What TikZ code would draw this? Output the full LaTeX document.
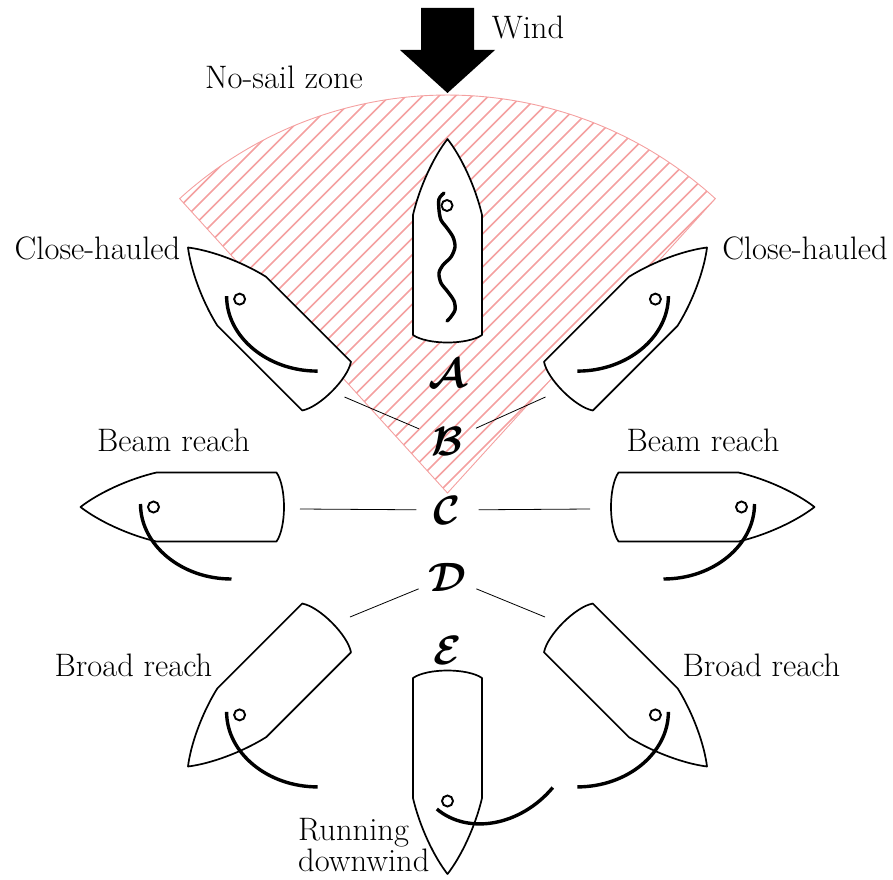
\RequirePackage{fix-cm}
\documentclass[tikz,border=0pt]{standalone}
\usetikzlibrary{calc}
\definecolor{nogo}{RGB}{244,160,160}
\tikzset{
  hull/.style={draw=black, line width=1.7pt, fill=white, line join=round},
  sail/.style={line width=3.4pt},
  mastring/.style={draw=black, line width=1.9pt, fill=white},
  lbl/.style={font=\fontsize{32.5}{31}\selectfont, inner sep=0pt},
  letter/.style={circle, inner sep=0pt, minimum size=62pt,
    font=\fontsize{41}{41}\selectfont\boldmath},
  leader/.style={line width=0.8pt},
  hatchline/.style={draw=nogo, line width=1.7pt},
  boat/.pic={
    \draw[hull] (-34.5,-98) -- (-34.5,22)
      .. controls (-28,50) and (-14,80) .. (0,98)
      .. controls (14,80) and (28,50) .. (34.5,22)
      -- (34.5,-98) .. controls (20,-108) and (-20,-108) .. cycle;
    \coordinate (-mast) at (0,25);
  },
  mastpin/.pic={\draw[mastring] (0,0) circle[radius=5.5];}
}
\begin{document}
\begin{tikzpicture}[x=1pt,y=1pt]
\useasboundingbox (-447.5,-372) rectangle (445.5,507);

% no-sail zone: hatched sector
\begin{scope}
  \clip (0,14) -- ++(47.7:398) arc[start angle=47.7, end angle=132.3, radius=398] -- cycle;
  \foreach \c in {-700,-683.5,...,270} \draw[hatchline] (\c,0) -- ++(460,460);
\end{scope}
\draw[draw=nogo, line width=0.9pt] (0,14) -- ++(47.7:398) arc[start angle=47.7, end angle=132.3, radius=398] -- cycle;

% wind arrow
\fill (-26.5,499) -- (26.5,499) -- (26.5,457) -- (47.5,457) -- (0,414)
  -- (-47.5,457) -- (-26.5,457) -- cycle;

% hulls
\pic (hw)  [rotate=0]    at (0,270)     {boat};
\pic (chl) [rotate=45]   at (135:269)   {boat};
\pic (chr) [rotate=-45]  at (45:269)    {boat};
\pic (bml) [rotate=90]   at (180:269)   {boat};
\pic (bmr) [rotate=-90]  at (0:269)     {boat};
\pic (brl) [rotate=135]  at (225:269)   {boat};
\pic (brr) [rotate=-135] at (-45:269)   {boat};
\pic (run) [rotate=180]  at (270:269)   {boat};

% masts
\pic at (-0.5,301.5) {mastpin};
\foreach \b in {chl,chr,bml,bmr,brl,brr,run} \pic at (\b-mast) {mastpin};

% luffing sail, head to wind
\draw[sail, line cap=round] plot[smooth] coordinates {(-3.5,314) (-8.5,308) (-8.5,297) (-6.5,287)
  (-0.5,279) (5.5,270) (7.5,260) (3.5,250) (-4.5,242) (-8.5,234) (-6.5,224)
  (0.5,215) (6.5,206) (7.5,197) (2.5,189) (-0.5,186)};

% filled sails on the port side
\foreach \b in {chl,bml,brl}{
  \begin{scope}[shift={(\b-mast)}]
    \draw[sail] (-13,3) .. controls (-13,-38) and (28,-72) .. (78,-72);
  \end{scope}
}
% filled sails on the starboard side
\foreach \b in {chr,bmr,brr}{
  \begin{scope}[shift={(\b-mast)}, xscale=-1]
    \draw[sail] (-13,3) .. controls (-13,-38) and (28,-72) .. (78,-72);
  \end{scope}
}
% sail when running
\begin{scope}[shift={(run-mast)}, rotate=50]
  \draw[sail] (-13,3) .. controls (-13,-38) and (28,-72) .. (78,-72);
\end{scope}

% point-of-sail letters and leaders
\node[letter] (A) at (0,134) {$\mathcal{A}$};
\node[letter] (B) at (0,66)  {$\mathcal{B}$};
\node[letter] (C) at (0,-3)  {$\mathcal{C}$};
\node[letter] (D) at (0,-70) {$\mathcal{D}$};
\node[letter] (E) at (0,-143) {$\mathcal{E}$};

\coordinate (bL) at (-103,110);
\coordinate (bR) at (98,110);
\coordinate (cL) at (-147.5,-2);
\coordinate (cR) at (142.5,-2);
\coordinate (dL) at (-97.5,-110);
\coordinate (dR) at (97.5,-110);
\draw[leader] (B) -- (bL);
\draw[leader] (B) -- (bR);
\draw[leader] (C) -- (cL);
\draw[leader] (C) -- (cR);
\draw[leader] (D) -- (dL);
\draw[leader] (D) -- (dR);

% captions
\node[lbl] (wind) at (80.5,480) {Wind};
\node[lbl] (nosail) at (-163.5,430) {No-sail zone};
\node[lbl] (chlT) at (-350,259) {Close-hauled};
\node[lbl] (chrT) at (357.5,259) {Close-hauled};
\node[lbl] (bmlT) at (-274,67) {Beam reach};
\node[lbl] (bmrT) at (255.5,67) {Beam reach};
\node[lbl] (brlT) at (-314,-158) {Broad reach};
\node[lbl] (brrT) at (314,-158) {Broad reach};
\node[lbl, align=left, anchor=west] (runT) at (-149.5,-338) {Running\\downwind};
\end{tikzpicture}
\end{document}
